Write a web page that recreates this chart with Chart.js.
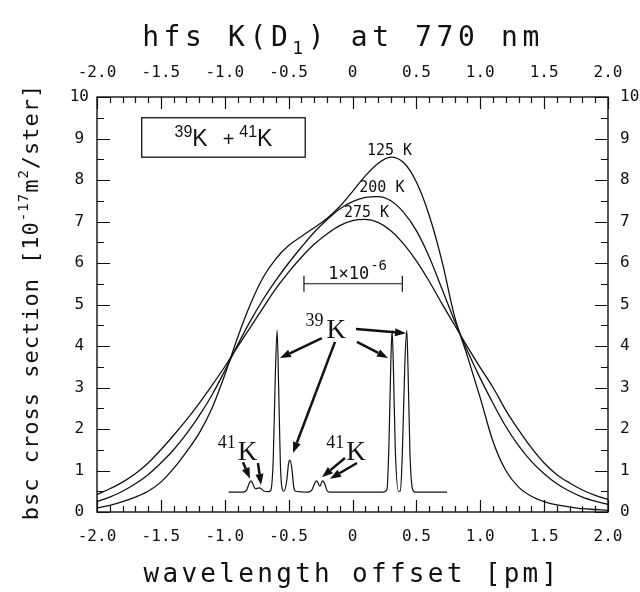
<!DOCTYPE html>
<html>
<head>
<meta charset="utf-8">
<script src="https://cdn.jsdelivr.net/npm/chart.js@4.4.0/dist/chart.umd.min.js"></script>
<style>
  html, body { margin: 0; padding: 0; background: #fff; }
  #wrap { width: 640px; height: 592px; }
</style>
</head>
<body>
<div id="wrap"><canvas id="chart" width="640" height="592"></canvas></div>
<script>
// ================================
//            DATA
// ================================
const wavelength = [
  -2.0, -1.9, -1.8, -1.7, -1.6, -1.5, -1.4, -1.3, -1.2, -1.1,
  -1.0, -0.9, -0.8, -0.7, -0.6, -0.5, -0.4, -0.3, -0.2, -0.1,
  0.0, 0.1, 0.2, 0.3, 0.4, 0.5, 0.6, 0.7, 0.8, 0.9,
  1.0, 1.1, 1.2, 1.3, 1.4, 1.5, 1.6, 1.7, 1.8, 1.9, 2.0
];
const bsc125 = [
  0.10, 0.16, 0.25, 0.36, 0.50, 0.72, 1.05, 1.45, 1.90, 2.50,
  3.30, 4.20, 5.00, 5.65, 6.10, 6.42, 6.64, 6.85, 7.07, 7.36,
  7.72, 8.10, 8.40, 8.55, 8.42, 7.95, 7.15, 6.05, 4.70, 3.75,
  2.75, 1.70, 1.00, 0.60, 0.38, 0.25, 0.17, 0.12, 0.08, 0.06, 0.04
];
const bsc200 = [
  0.25, 0.36, 0.50, 0.68, 0.90, 1.18, 1.50, 1.88, 2.32, 2.82,
  3.40, 4.02, 4.60, 5.12, 5.58, 6.00, 6.38, 6.74, 7.04, 7.30,
  7.48, 7.58, 7.60, 7.50, 7.22, 6.78, 6.15, 5.38, 4.60, 3.88,
  3.22, 2.62, 2.06, 1.60, 1.22, 0.92, 0.68, 0.50, 0.36, 0.26, 0.18
];
const bsc275 = [
  0.42, 0.56, 0.72, 0.92, 1.18, 1.50, 1.85, 2.22, 2.62, 3.05,
  3.50, 3.98, 4.45, 4.92, 5.38, 5.78, 6.14, 6.45, 6.70, 6.90,
  7.02, 7.05, 6.98, 6.78, 6.46, 6.05, 5.56, 5.02, 4.50, 3.98,
  3.48, 3.00, 2.45, 1.98, 1.55, 1.18, 0.90, 0.70, 0.53, 0.40, 0.30
];

// inset: hyperfine lines (own scale, drawn in plot units)
const hfsX = [
  -0.97, -0.86, -0.83, -0.81, -0.795, -0.78, -0.76, -0.73, -0.71, -0.69,
  -0.66, -0.64, -0.62, -0.605, -0.59, -0.578, -0.565, -0.55, -0.535, -0.515,
  -0.50, -0.49, -0.475, -0.46, -0.445, -0.35, -0.32, -0.295, -0.28, -0.255,
  -0.235, -0.22, -0.20, -0.18, 0.24, 0.27, 0.285, 0.30, 0.31, 0.32,
  0.335, 0.36, 0.375, 0.39, 0.41, 0.425, 0.435, 0.45, 0.47, 0.49, 0.74
];
const hfsY = [
  0.48, 0.48, 0.52, 0.68, 0.75, 0.68, 0.56, 0.58, 0.55, 0.50,
  0.49, 0.52, 1.30, 3.20, 4.38, 3.00, 1.20, 0.55, 0.50, 0.75,
  1.18, 1.25, 1.05, 0.60, 0.50, 0.48, 0.52, 0.70, 0.75, 0.62,
  0.75, 0.70, 0.52, 0.48, 0.48, 0.55, 1.60, 3.60, 4.38, 3.50,
  1.50, 0.50, 0.50, 1.40, 3.60, 4.38, 3.40, 1.40, 0.55, 0.48, 0.48
];

const xTickLabels = [-2.0, -1.5, -1.0, -0.5, 0, 0.5, 1.0, 1.5, 2.0];
const yTickLabels = [0, 1, 2, 3, 4, 5, 6, 7, 8, 9, 10];

const tempLabels = ["125 K", "200 K", "275 K"];

const toPts = (xs, ys) => xs.map((x, i) => ({ x: x, y: ys[i] }));

// ================================
//        HELPERS
// ================================
const MONO = "'DejaVu Sans Mono', monospace";
const INK = "#111";

function drawRuns(ctx, runs, x, y, align) {
  let total = 0;
  runs.forEach((r) => {
    ctx.font = r.font;
    r.w = ctx.measureText(r.t).width;
    total += r.w + (r.gap || 0);
  });
  let cx = align === "center" ? x - total / 2 : x;
  ctx.textAlign = "left";
  ctx.textBaseline = "alphabetic";
  runs.forEach((r) => {
    ctx.font = r.font;
    ctx.fillText(r.t, cx, y + (r.dy || 0));
    cx += r.w + (r.gap || 0);
  });
}

function arrow(ctx, x1, y1, x2, y2) {
  const ang = Math.atan2(y2 - y1, x2 - x1);
  const len = 11, half = 4;
  const bx = x2 - len * Math.cos(ang), by = y2 - len * Math.sin(ang);
  ctx.beginPath();
  ctx.moveTo(x1, y1);
  ctx.lineTo(bx, by);
  ctx.stroke();
  ctx.beginPath();
  ctx.moveTo(x2, y2);
  ctx.lineTo(bx + half * Math.sin(ang), by - half * Math.cos(ang));
  ctx.lineTo(bx - half * Math.sin(ang), by + half * Math.cos(ang));
  ctx.closePath();
  ctx.fill();
}

// ================================
//   FRAME, TICKS AND ANNOTATIONS
// ================================
const framePlugin = {
  id: "frame",
  beforeDraw(chart) {
    const ctx = chart.ctx;
    ctx.save();
    ctx.fillStyle = "#fff";
    ctx.fillRect(0, 0, chart.width, chart.height);
    ctx.restore();
  },
  afterDraw(chart) {
    const ctx = chart.ctx;
    const a = chart.chartArea;
    const xs = chart.scales.x, ys = chart.scales.y;
    const px = (v) => xs.getPixelForValue(v);
    const py = (v) => ys.getPixelForValue(v);
    ctx.save();
    ctx.strokeStyle = INK;
    ctx.fillStyle = INK;

    // frame
    ctx.lineWidth = 1.4;
    ctx.strokeRect(a.left, a.top, a.right - a.left, a.bottom - a.top);

    // inward ticks
    ctx.lineWidth = 1.2;
    ctx.beginPath();
    for (let i = -20; i <= 20; i++) {
      const x = Math.round(px(i / 10)) + 0.5;
      const L = i % 5 === 0 ? 12 : 6;
      ctx.moveTo(x, a.bottom); ctx.lineTo(x, a.bottom - L);
      ctx.moveTo(x, a.top); ctx.lineTo(x, a.top + L);
    }
    for (let j = 0; j <= 20; j++) {
      const y = Math.round(py(j / 2)) + 0.5;
      const L = j % 2 === 0 ? 13 : 7;
      ctx.moveTo(a.left, y); ctx.lineTo(a.left + L, y);
      ctx.moveTo(a.right, y); ctx.lineTo(a.right - L, y);
    }
    ctx.stroke();

    // legend box
    ctx.lineWidth = 1.3;
    ctx.strokeRect(px(-1.65), py(9.5), px(-0.37) - px(-1.65), py(8.55) - py(9.5));
    drawRuns(ctx, [
      { t: "39", font: "16px 'Liberation Sans'", dy: -9 },
      { t: "K", font: "23px 'Liberation Sans'", gap: 15 },
      { t: "+", font: "20px 'Liberation Sans'", gap: 5 },
      { t: "41", font: "16px 'Liberation Sans'", dy: -9 },
      { t: "K", font: "23px 'Liberation Sans'" }
    ], px(-1.01), py(8.82), "center");

    // temperature labels
    ctx.font = "15px " + MONO;
    ctx.textAlign = "center";
    ctx.textBaseline = "middle";
    ctx.fillText(tempLabels[0], px(0.29), py(8.7));
    ctx.fillText(tempLabels[1], px(0.23), py(7.8));
    ctx.fillText(tempLabels[2], px(0.11), py(7.2));

    // scale bar 1x10^-6
    ctx.lineWidth = 1.2;
    ctx.beginPath();
    ctx.moveTo(px(-0.38), py(5.5)); ctx.lineTo(px(0.39), py(5.5));
    ctx.moveTo(px(-0.38), py(5.5) - 8); ctx.lineTo(px(-0.38), py(5.5) + 8);
    ctx.moveTo(px(0.39), py(5.5) - 8); ctx.lineTo(px(0.39), py(5.5) + 8);
    ctx.stroke();
    drawRuns(ctx, [
      { t: "1\u00d710", font: "17px " + MONO, gap: 1 },
      { t: "-6", font: "14px " + MONO, dy: -9 }
    ], px(0.04), py(5.62), "center");

    // isotope labels
    const serif = (s) => s + "px 'Liberation Serif'";
    drawRuns(ctx, [
      { t: "39", font: serif(18), dy: -12, gap: 3 },
      { t: "K", font: serif(27) }
    ], px(-0.21), py(4.2), "center");
    drawRuns(ctx, [
      { t: "41", font: serif(18), dy: -12, gap: 2 },
      { t: "K", font: serif(27) }
    ], px(-0.9), py(1.26), "center");
    drawRuns(ctx, [
      { t: "41", font: serif(18), dy: -12, gap: 2 },
      { t: "K", font: serif(27) }
    ], px(-0.05), py(1.26), "center");

    // arrows
    ctx.lineWidth = 2.5;
    arrow(ctx, px(-0.24), py(4.19), px(-0.568), py(3.71));
    arrow(ctx, px(-0.137), py(4.10), px(-0.466), py(1.42));
    arrow(ctx, px(0.035), py(4.10), px(0.278), py(3.71));
    arrow(ctx, px(0.027), py(4.41), px(0.419), py(4.31));
    arrow(ctx, px(-0.857), py(1.20), px(-0.802), py(0.80));
    arrow(ctx, px(-0.74), py(1.18), px(-0.716), py(0.65));
    arrow(ctx, px(-0.059), py(1.30), px(-0.239), py(0.84));
    arrow(ctx, px(0.035), py(1.18), px(-0.176), py(0.80));

    // main title
    ctx.letterSpacing = "4.6px";
    drawRuns(ctx, [
      { t: "hfs K(D", font: "28px " + MONO },
      { t: "1", font: "18px " + MONO, dy: 8 },
      { t: ") at 770 nm", font: "28px " + MONO }
    ], 343, 46, "center");

    // x title
    ctx.letterSpacing = "3.3px";
    drawRuns(ctx, [
      { t: "wavelength offset [pm]", font: "26px " + MONO }
    ], 352, 582, "center");

    // y title
    ctx.letterSpacing = "1px";
    ctx.translate(38, 302);
    ctx.rotate(-Math.PI / 2);
    drawRuns(ctx, [
      { t: "bsc cross section [10", font: "22px " + MONO },
      { t: "-17", font: "14px " + MONO, dy: -10 },
      { t: "m", font: "22px " + MONO },
      { t: "2", font: "14px " + MONO, dy: -10 },
      { t: "/ster]", font: "22px " + MONO }
    ], 0, 0, "center");
    ctx.restore();
  }
};

// ================================
//          CHART
// ================================
const lineStyle = {
  borderColor: INK,
  borderWidth: 1.3,
  pointRadius: 0,
  fill: false,
  cubicInterpolationMode: "monotone"
};

const tickFont = { family: "'DejaVu Sans Mono', monospace", size: 16 };
const labelX = (v) => {
  const r = Math.round(v * 10) / 10;
  return xTickLabels.includes(r) ? (r === 0 ? "0" : r.toFixed(1)) : "";
};

new Chart(document.getElementById("chart"), {
  type: "line",
  data: {
    datasets: [
      { label: "125 K", data: toPts(wavelength, bsc125), ...lineStyle },
      { label: "200 K", data: toPts(wavelength, bsc200), ...lineStyle },
      { label: "275 K", data: toPts(wavelength, bsc275), ...lineStyle },
      { label: "hfs", data: toPts(hfsX, hfsY), ...lineStyle, borderWidth: 1.2 }
    ]
  },
  options: {
    responsive: false,
    animation: false,
    devicePixelRatio: 1,
    layout: { padding: 0 },
    plugins: { legend: { display: false }, title: { display: false }, tooltip: { enabled: false } },
    scales: {
      x: {
        type: "linear", position: "bottom", min: -2, max: 2,
        afterFit: (s) => { s.height = 80; },
        grid: { display: false, drawTicks: false },
        border: { display: false },
        ticks: { stepSize: 0.5, font: tickFont, color: INK, padding: 15, maxRotation: 0, autoSkip: false, callback: labelX }
      },
      x2: {
        type: "linear", position: "top", min: -2, max: 2,
        afterFit: (s) => { s.height = 97; },
        grid: { display: false, drawTicks: false },
        border: { display: false },
        ticks: { stepSize: 0.5, font: tickFont, color: INK, padding: 15, maxRotation: 0, autoSkip: false, callback: labelX }
      },
      y: {
        type: "linear", position: "left", min: 0, max: 10,
        afterFit: (s) => { s.width = 97; },
        grid: { display: false, drawTicks: false },
        border: { display: false },
        ticks: { stepSize: 1, font: tickFont, color: INK, padding: 8, crossAlign: "center",
          callback: (v) => (yTickLabels.includes(v) ? String(v) : "") }
      },
      y2: {
        type: "linear", position: "right", min: 0, max: 10,
        afterFit: (s) => { s.width = 32; },
        grid: { display: false, drawTicks: false },
        border: { display: false },
        ticks: { stepSize: 1, font: tickFont, color: INK, padding: 12,
          callback: (v) => (yTickLabels.includes(v) ? String(v) : "") }
      }
    }
  },
  plugins: [framePlugin]
});
</script>
</body>
</html>
